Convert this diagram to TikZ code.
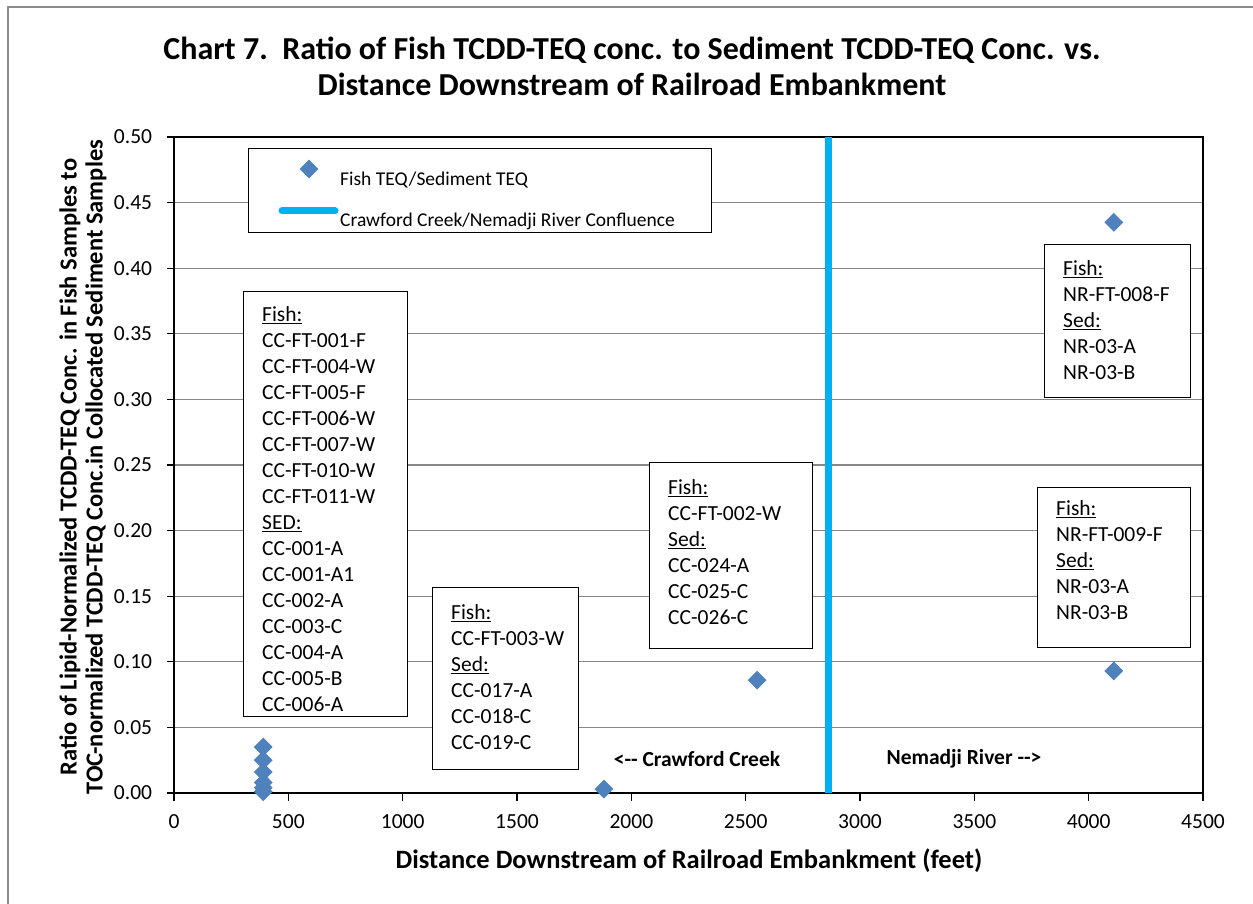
\documentclass[tikz,border=0pt]{standalone}
\usepackage{fontspec}
\setmainfont{Carlito}
\usetikzlibrary{shapes.geometric}
\definecolor{fishblue}{HTML}{4F81BD}
\definecolor{conflblue}{HTML}{00B0F0}
\definecolor{gridgray}{HTML}{878787}
\definecolor{framegray}{HTML}{8C8C8C}
\newcommand\firstln{\rule{0pt}{20pt}}

\begin{document}
\begin{tikzpicture}[x=1pt,y=-1pt,
  fishpt/.style={diamond,fill=fishblue,inner sep=0pt,minimum size=19pt},
  box/.style={draw,line width=1.4pt,fill=white,anchor=north west,inner sep=0pt},
  boxtxt/.style={anchor=north west,inner sep=0pt,align=left,font=\fontsize{21.5}{26}\selectfont},
  lab/.style={inner sep=0pt,font=\fontsize{21.5}{24}\selectfont},
  bold/.style={inner sep=0pt,font=\fontsize{21.5}{26}\selectfont\bfseries},
  confl/.style={conflblue,line width=7pt,line cap=round}]
\useasboundingbox (0,0) rectangle (1253,904);
\draw[framegray,line width=2pt] (8,904) -- (8,7) -- (1253,7);

% title
\node[inner sep=0pt,align=center,font=\fontsize{32}{36}\selectfont\bfseries] (ttl) at (632,66)
  {Chart 7.\ \ Ratio of Fish TCDD-TEQ conc. to Sediment TCDD-TEQ Conc. vs.\\
   Distance Downstream of Railroad Embankment};

% plot area in data units
\begin{scope}[shift={(174,793)},x=0.228667pt,y=1312pt]
\coordinate (o) at (0,0);
\coordinate (xe) at (4500,0);
\coordinate (ye) at (0,0.5);
\coordinate (tr) at (4500,0.5);
\foreach \v in {0.05,0.10,0.15,0.20,0.25,0.30,0.35,0.40,0.45}
  \draw[gridgray,line width=1.3pt] (0,\v) -- (4500,\v);
\draw[line width=1.4pt] (ye) -- (tr) -- (xe);
\foreach \v in {0.00,0.05,0.10,0.15,0.20,0.25,0.30,0.35,0.40,0.45,0.50} {
  \draw[line width=1.3pt] (-30,\v) -- (0,\v);
  \node[lab,anchor=east] at (-95,\v) {\v};
}
\foreach \u in {0,500,...,4500} {
  \draw[line width=1.3pt] (\u,0) -- (\u,-0.006);
  \node[lab] at (\u,-0.022) {\u};
}
\draw[line width=2.4pt] (ye) -- (o) -- (xe);

% confluence
\coordinate (cf1) at (2860,0);
\coordinate (cf2) at (2860,0.5);
\draw[confl,line cap=butt] (cf1) -- (cf2);

% data points
\foreach \y [count=\i] in {0.001,0.004,0.008,0.016,0.025,0.035}
  \node[fishpt] (p\i) at (390,\y) {};
\node[fishpt] (p7) at (1880,0.003) {};
\node[fishpt] (p8) at (2550,0.086) {};
\node[fishpt] (p9) at (4110,0.093) {};
\node[fishpt] (p10) at (4110,0.435) {};
\end{scope}

% side labels
\node[bold] (cc) at (697,759) {<-{}- Crawford Creek};
\node[bold] (nr) at (964,759) {Nemadji River -{}->};

% axis titles
\node[bold,font=\fontsize{26.5}{30}\selectfont\bfseries] (xt) at (689,861) {Distance Downstream of Railroad Embankment (feet)};
\node[bold,align=center,rotate=90,font=\fontsize{24.5}{26}\selectfont\bfseries] (yt) at (83,467)
  {Ratio of Lipid-Normalized TCDD-TEQ Conc. in Fish Samples to\\
   TOC-normalized TCDD-TEQ Conc.in Collocated Sediment Samples};

% legend
\node[box,minimum width=463pt,minimum height=84pt] (lg) at (248,148) {};
\node[fishpt] (lgm) at (309,169) {};
\coordinate (lga) at (282,211);
\coordinate (lgb) at (335,211);
\draw[confl] (lga) -- (lgb);
\node[lab,anchor=base west,font=\fontsize{19.5}{22}\selectfont] (lg1) at (340,186) {Fish TEQ/Sediment TEQ};
\node[lab,anchor=base west,font=\fontsize{19.5}{22}\selectfont] (lg2) at (340,226) {Crawford Creek/Nemadji River Confluence};

% sample boxes
\node[box,minimum width=164pt,minimum height=425pt] (b1) at (243,291) {};
\node[boxtxt] (t1) at (262,301) {\firstln\underline{Fish:}\\CC-FT-001-F\\CC-FT-004-W\\CC-FT-005-F\\CC-FT-006-W\\
  CC-FT-007-W\\CC-FT-010-W\\CC-FT-011-W\\\underline{SED:}\\CC-001-A\\CC-001-A1\\CC-002-A\\CC-003-C\\
  CC-004-A\\CC-005-B\\CC-006-A};

\node[box,minimum width=146pt,minimum height=182pt] (b2) at (432,587) {};
\node[boxtxt] (t2) at (451,599) {\firstln\underline{Fish:}\\CC-FT-003-W\\\underline{Sed:}\\CC-017-A\\CC-018-C\\CC-019-C};

\node[box,minimum width=163pt,minimum height=186pt] (b3) at (649,462) {};
\node[boxtxt] (t3) at (668,474) {\firstln\underline{Fish:}\\CC-FT-002-W\\\underline{Sed:}\\CC-024-A\\CC-025-C\\CC-026-C};

\node[box,minimum width=146pt,minimum height=153pt] (b4) at (1044,244) {};
\node[boxtxt] (t4) at (1063,255) {\firstln\underline{Fish:}\\NR-FT-008-F\\\underline{Sed:}\\NR-03-A\\NR-03-B};

\node[box,minimum width=153pt,minimum height=160pt] (b5) at (1037,487) {};
\node[boxtxt] (t5) at (1056,495) {\firstln\underline{Fish:}\\NR-FT-009-F\\\underline{Sed:}\\NR-03-A\\NR-03-B};
\end{tikzpicture}
\end{document}
